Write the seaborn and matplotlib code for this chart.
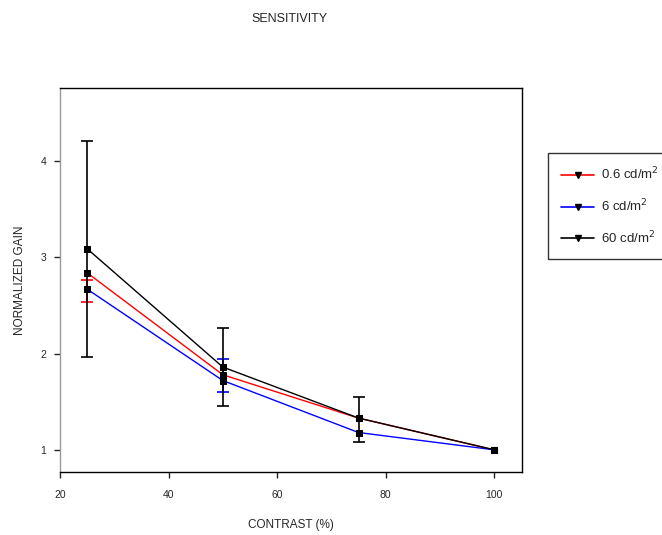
import matplotlib
matplotlib.use("Agg")
import matplotlib.pyplot as plt
import seaborn as sns
import pandas as pd
import numpy as np

contrast = [25, 50, 75, 100]
series_names = ["0.6 cd/m$^2$", "6 cd/m$^2$", "60 cd/m$^2$"]
gain_06 = [2.84, 1.78, 1.33, 1.00]
gain_6 = [2.67, 1.72, 1.18, 1.00]
gain_60 = [3.09, 1.86, 1.33, 1.00]
# error bar bounds (low, high)
err_06_lo = [2.54, np.nan, np.nan, np.nan]
err_06_hi = [2.77, np.nan, np.nan, np.nan]
err_6_lo = [np.nan, 1.60, np.nan, np.nan]
err_6_hi = [np.nan, 1.94, np.nan, np.nan]
err_60_lo = [1.96, 1.46, 1.08, np.nan]
err_60_hi = [4.21, 2.27, 1.55, np.nan]
colors = ["#ff0000", "#0000ff", "#000000"]

sns.set_style("ticks")
plt.rcParams["font.family"] = ["Liberation Sans", "DejaVu Sans"]

df = pd.DataFrame({
    "contrast": contrast * 3,
    "gain": gain_06 + gain_6 + gain_60,
    "series": [series_names[0]] * 4 + [series_names[1]] * 4 + [series_names[2]] * 4,
})

fig = plt.figure(figsize=(6.62, 5.35), dpi=100)
ax = fig.add_axes([0.0906, 0.1178, 0.6979, 0.7177])

sns.lineplot(data=df, x="contrast", y="gain", hue="series", palette=colors,
             hue_order=series_names, ax=ax, linewidth=1.0, legend=False,
             marker="s", markersize=4.5, markerfacecolor="black",
             markeredgecolor="black", zorder=3)

for lo, hi, c in [(err_06_lo, err_06_hi, colors[0]), (err_6_lo, err_6_hi, colors[1]),
                  (err_60_lo, err_60_hi, colors[2])]:
    lo = np.array(lo); hi = np.array(hi)
    mid = (lo + hi) / 2
    half = (hi - lo) / 2
    m = ~np.isnan(mid)
    ax.errorbar(np.array(contrast)[m], mid[m], yerr=half[m], fmt="none",
                ecolor=c, elinewidth=1.2, capsize=4, capthick=1.2, zorder=2)

ax.set_xlim(20, 105.1)
ax.set_ylim(0.77, 4.76)
ax.set_xticks([20, 40, 60, 80, 100])
ax.set_yticks([1, 2, 3, 4])
ax.tick_params(axis="both", direction="out", length=4, width=1, labelsize=7.5,
               top=False, right=False)
ax.tick_params(axis="x", pad=9)
ax.tick_params(axis="y", pad=6)
for s in ax.spines.values():
    s.set_visible(True)
    s.set_color("black")
    s.set_linewidth(1)
ax.spines["left"].set_color("#999999")

ax.set_xlabel("CONTRAST (%)", fontsize=8.5, labelpad=14)
ax.set_ylabel("NORMALIZED GAIN", fontsize=8.5, labelpad=10)
fig.text(0.438, 0.965, "SENSITIVITY", fontsize=9, ha="center", va="center")

from matplotlib.lines import Line2D
handles = [Line2D([0], [0], color=c, lw=1.2, marker="v", markersize=5,
                  markerfacecolor="black", markeredgecolor="black") for c in colors]
leg = fig.legend(handles, series_names, loc="upper left",
                 bbox_to_anchor=(0.818, 0.727), frameon=True, fontsize=9.5,
                 fancybox=False, edgecolor="black", handlelength=2.5,
                 borderpad=1.0, labelspacing=1.15, handletextpad=0.5)
leg.get_frame().set_linewidth(1)

fig.savefig("out.png", dpi=100)
